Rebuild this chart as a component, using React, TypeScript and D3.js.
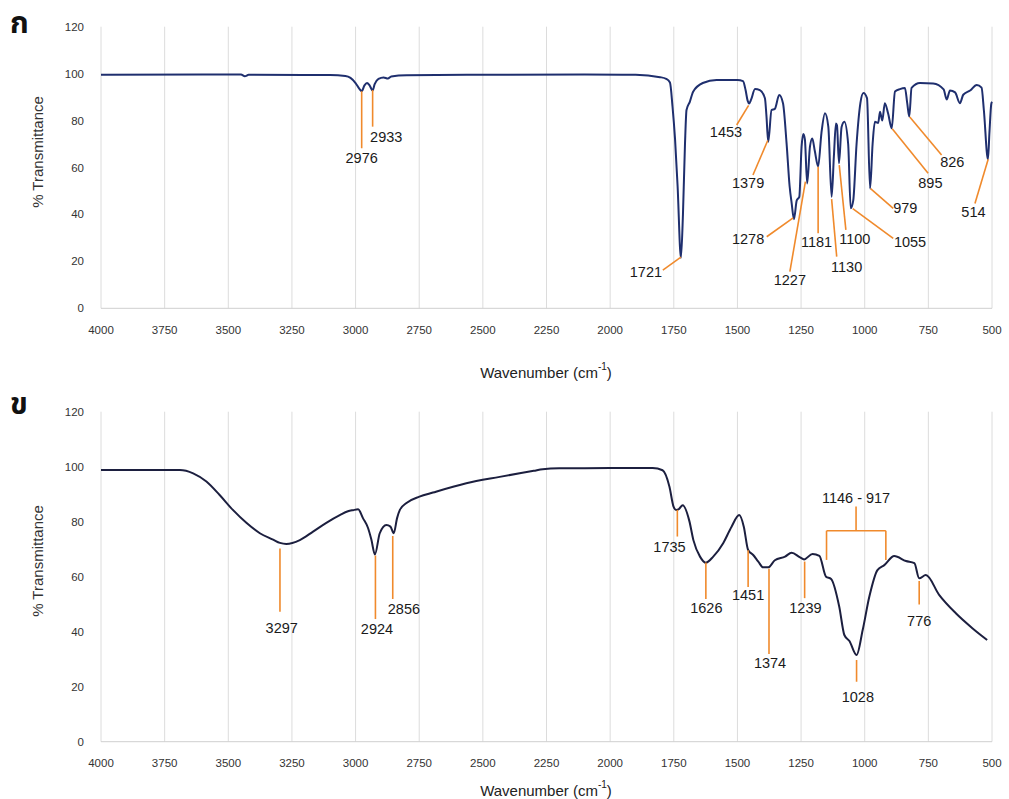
import React, { useEffect } from "react";
import * as d3 from "d3";

const W = 1009;
const H = 799;

const xTicks = [4000, 3750, 3500, 3250, 3000, 2750, 2500, 2250, 2000, 1750, 1500, 1250, 1000, 750, 500];
const yTicks = [0, 20, 40, 60, 80, 100, 120];

// spectrum ก (wavenumber cm-1, %T)
const wavenumberA = [
  4000, 3600, 3450, 3435, 3420, 3100, 3040, 3020, 3000, 2985, 2976, 2965, 2955, 2945, 2933, 2925, 2910, 2890,
  2873, 2860, 2800, 2500, 2100, 1900, 1804, 1780, 1765, 1755, 1745, 1735, 1722, 1714, 1706, 1700, 1687,
  1674, 1636, 1582, 1500, 1478, 1468, 1460, 1454, 1446, 1431, 1412, 1392, 1386, 1379, 1366, 1353, 1336,
  1321, 1307, 1295, 1287, 1278, 1267, 1257, 1248, 1241, 1235, 1226, 1215, 1206, 1196, 1183, 1170, 1156, 1143,
  1130, 1121, 1113, 1109, 1101, 1091, 1080, 1065, 1055, 1045, 1032, 1017, 1005, 991, 979, 969, 960, 947, 940,
  931, 921, 908, 894, 881, 862, 842, 833, 825, 816, 783, 731, 690, 678, 665, 645, 626, 613, 586, 560, 541, 532,
  516, 510, 503, 500,
];
const transmittanceA = [
  99.5, 99.6, 99.6, 98.9, 99.5, 99.4, 99.0, 98.2, 96, 93.5, 92.5, 95, 96, 95, 92.8, 95.5, 97.8, 98.4,
  97.9, 98.8, 99.3, 99.5, 99.6, 99.5, 98.5, 97.8, 96.2, 86, 72, 52, 21.5, 40, 70, 84.5, 88,
  92.3, 96, 97.3, 97.3, 96.8, 93, 88.5, 87.3, 89, 93.5, 93, 89.5, 82, 71, 84.5, 85, 90.9,
  87.4, 70.4, 52, 44.8, 38, 46, 47.5, 68.9, 74.3, 72, 53.2, 69, 72.4, 67, 60.4, 74.7, 83.1, 77.4,
  47.5, 65, 78.8, 78, 61.8, 77.2, 79.5, 70, 42.6, 46, 70, 87.4, 91.7, 89.6, 51, 70, 79.5, 79, 83.8,
  80, 87.4, 83, 76.7, 92.4, 93.4, 93.9, 87.4, 81.7, 93.9, 96, 95.8, 93.3, 89, 92.8, 92, 87.4, 91, 92.8, 95.2, 94, 84.5,
  63.5, 75, 87, 88,
];

// spectrum ข
const wavenumberB = [
  4000, 3750, 3690, 3638, 3586, 3534, 3481, 3429, 3376, 3324, 3297, 3272, 3219, 3167, 3115, 3062, 3030, 3010,
  2990, 2971, 2951, 2938, 2924, 2905, 2879, 2863, 2850, 2837, 2826, 2800, 2749, 2696, 2565, 2434, 2350, 2300, 2265,
  2200, 2000, 1833, 1794, 1767, 1751, 1741, 1730, 1715, 1689, 1673, 1647, 1624, 1595, 1556, 1523, 1493, 1475, 1458,
  1438, 1418, 1399, 1379, 1353, 1313, 1287, 1254, 1238, 1205, 1178, 1152, 1132, 1100, 1080, 1060, 1032,
  1008, 982, 950, 923, 884, 838, 805, 786, 760, 707, 642, 576, 519,
];
const transmittanceB = [
  98.8, 98.8, 98.8, 97.6, 94.6, 89.7, 84.2, 79.6, 75.8, 73.5, 72.3, 71.9, 73.3, 76.4, 79.6, 82.4, 83.8, 84.2,
  84.5, 81.3, 77.7, 73.5, 68.1, 75.8, 78.8, 78.2, 75.8, 81.3, 84.3, 86.8, 89.1, 90.6, 94, 96.3, 97.7, 98.5, 99.1,
  99.4, 99.5, 99.5, 98.7, 92.7, 85.5, 84.3, 84.6, 86, 80.3, 73.3, 67.3, 65.1, 67.3, 72.2, 78.2, 82.4, 78.2, 69.7,
  67.9, 65.5, 63.4, 63.4, 66, 67.3, 68.7, 67, 66.3, 68.3, 67.6, 60, 59.2, 49.1, 38.8, 36.6, 31.5,
  40.6, 52.7, 62.4, 64.2, 67.5, 65.7, 64.9, 59.4, 60.6, 53.3, 46.7, 41.2, 37,
];

// peak labels: leader from peak to end, text centred at label
const peaksA = [
  { text: "2976", peak: [2976, 92.5], end: [2976, 68.2], label: [2976, 64], anchor: "middle" },
  { text: "2933", peak: [2933, 93], end: [2933, 77.4], label: [2943, 73.1], anchor: "start" },
  { text: "1453", peak: [1456, 86.5], end: [1503, 78.1], label: [1545, 75.2], anchor: "middle" },
  { text: "1379", peak: [1381, 71.5], end: [1439, 56.8], label: [1458, 53.3], anchor: "middle" },
  { text: "1721", peak: [1722, 21.8], end: [1793, 16.3], label: [1796, 15.6], anchor: "end" },
  { text: "1278", peak: [1281, 38.5], end: [1385, 30.5], label: [1458, 29.4], anchor: "middle" },
  { text: "1227", peak: [1233, 54], end: [1294, 15.6], label: [1294, 12.1], anchor: "middle" },
  { text: "1181", peak: [1183, 60.3], end: [1183, 32], label: [1189, 28.4], anchor: "middle" },
  { text: "1130", peak: [1130, 46.5], end: [1110, 22], label: [1071, 17.7], anchor: "middle" },
  { text: "1100", peak: [1100, 61], end: [1074, 33.4], label: [1039, 29.4], anchor: "middle" },
  { text: "1055", peak: [1047, 42.5], end: [888, 29.8], label: [822, 28.4], anchor: "middle" },
  { text: "979", peak: [977, 51], end: [888, 42.6], label: [888, 42.6], anchor: "start" },
  { text: "895", peak: [892, 76.5], end: [751, 57.5], label: [742, 53.3], anchor: "middle" },
  { text: "826", peak: [823, 81.5], end: [698, 65.3], label: [656, 62.5], anchor: "middle" },
  { text: "514", peak: [515, 63.5], end: [567, 44.7], label: [573, 41.2], anchor: "middle" },
];

const peaksB = [
  { text: "3297", peak: [3297, 70.3], end: [3297, 47.3], label: [3290, 41.3], anchor: "middle" },
  { text: "2924", peak: [2922, 67.7], end: [2922, 44.6], label: [2916, 41], anchor: "middle" },
  { text: "2856", peak: [2854, 74.8], end: [2854, 51.9], label: [2810, 48.3], anchor: "middle" },
  { text: "1735", peak: [1736, 84.3], end: [1736, 74.6], label: [1767, 70.9], anchor: "middle" },
  { text: "1626", peak: [1624, 65.2], end: [1624, 51.9], label: [1622, 48.5], anchor: "middle" },
  { text: "1451", peak: [1458, 69.6], end: [1458, 56.3], label: [1458, 53.3], anchor: "middle" },
  { text: "1374", peak: [1376, 62.9], end: [1376, 31.9], label: [1372, 28.7], anchor: "middle" },
  { text: "1239", peak: [1236, 65.5], end: [1236, 52.2], label: [1233, 48.8], anchor: "middle" },
  { text: "1028", peak: [1032, 29.7], end: [1032, 21.8], label: [1027, 16.2], anchor: "middle" },
  { text: "776", peak: [786, 58.4], end: [786, 49.9], label: [786, 44], anchor: "middle" },
];

const bracketB = { text: "1146 - 917", left: 1150, right: 917, mid: 1034, bar: 76.7, legs: 66.1, stem: 85.5, label: 88.5 };

const ORANGE = "#f08a2c";
const FONT = "'Liberation Sans', Arial, sans-serif";

type Peak = { text: string; peak: number[]; end: number[]; label: number[]; anchor: string };

function Panel({ top, bottom, tickY, titleY, yTitleY, letter, letterY, wn, tr, peaks, color, bracket }: any) {
  const x = d3.scaleLinear().domain([4000, 500]).range([101, 992]);
  const y = d3.scaleLinear().domain([0, 120]).range([bottom, top]);
  const pts: [number, number][] = wn.map((w: number, i: number) => [w, tr[i]]);
  const line = d3
    .line<[number, number]>()
    .x((d) => x(d[0]))
    .y((d) => y(d[1]))
    .curve(d3.curveMonotoneX);

  return (
    <g>
      <text x={10} y={letterY} fontSize={30} fontWeight="bold" fill="#111" fontFamily="'Noto Sans Thai', 'Noto Sans', 'DejaVu Sans', sans-serif">
        {letter}
      </text>
      {xTicks.map((t) => (
        <line key={t} x1={x(t)} x2={x(t)} y1={y(120)} y2={y(0)} stroke="#dcdcdc" strokeWidth={1} />
      ))}
      <line x1={x(4000)} x2={x(500)} y1={y(0)} y2={y(0)} stroke="#cfcfcf" strokeWidth={1} />
      {yTicks.map((t) => (
        <text key={t} x={84} y={y(t)} textAnchor="end" dominantBaseline="central" fontSize={11.5} fill="#333" fontFamily={FONT}>
          {t}
        </text>
      ))}
      {xTicks.map((t) => (
        <text key={t} x={x(t)} y={tickY} textAnchor="middle" dominantBaseline="central" fontSize={11.5} fill="#333" fontFamily={FONT}>
          {t}
        </text>
      ))}
      <text
        transform={`translate(37,${yTitleY}) rotate(-90)`}
        textAnchor="middle"
        dominantBaseline="central"
        fontSize={15}
        fill="#333"
        fontFamily={FONT}
      >
        % Transmittance
      </text>
      <text x={546} y={titleY} textAnchor="middle" dominantBaseline="central" fontSize={15} fill="#222" fontFamily={FONT}>
        Wavenumber (cm
        <tspan fontSize={10} dy={-6}>-1</tspan>
        <tspan dy={6}>)</tspan>
      </text>
      <path d={line(pts) || ""} fill="none" stroke={color} strokeWidth={2} />
      {peaks.map((p: Peak) => (
        <g key={p.text}>
          <line x1={x(p.peak[0])} y1={y(p.peak[1])} x2={x(p.end[0])} y2={y(p.end[1])} stroke={ORANGE} strokeWidth={1.6} />
          <text
            x={x(p.label[0])}
            y={y(p.label[1])}
            textAnchor={p.anchor}
            dominantBaseline="central"
            fontSize={14.5}
            fill="#1a1a1a"
            fontFamily={FONT}
          >
            {p.text}
          </text>
        </g>
      ))}
      {bracket && (
        <g stroke={ORANGE} strokeWidth={1.6} fill="none">
          <line x1={x(bracket.left)} x2={x(bracket.right)} y1={y(bracket.bar)} y2={y(bracket.bar)} />
          <line x1={x(bracket.left)} x2={x(bracket.left)} y1={y(bracket.bar)} y2={y(bracket.legs)} />
          <line x1={x(bracket.right)} x2={x(bracket.right)} y1={y(bracket.bar)} y2={y(bracket.legs)} />
          <line x1={x(bracket.mid)} x2={x(bracket.mid)} y1={y(bracket.bar)} y2={y(bracket.stem)} />
          <text
            x={x(bracket.mid)}
            y={y(bracket.label)}
            textAnchor="middle"
            dominantBaseline="central"
            fontSize={14.5}
            fill="#1a1a1a"
            stroke="none"
            fontFamily={FONT}
          >
            {bracket.text}
          </text>
        </g>
      )}
    </g>
  );
}

export default function App() {
  useEffect(() => {
    document.body.style.margin = "0";
    document.body.style.background = "#fff";
  }, []);

  return (
    <svg width={W} height={H} viewBox={`0 0 ${W} ${H}`} style={{ display: "block", background: "#fff" }}>
      <Panel
        top={26.7}
        bottom={308.3}
        tickY={330}
        titleY={372}
        yTitleY={152}
        letter="ก"
        letterY={33}
        wn={wavenumberA}
        tr={transmittanceA}
        peaks={peaksA}
        color="#1f2f6e"
      />
      <Panel
        top={411.7}
        bottom={741.7}
        tickY={763}
        titleY={790}
        yTitleY={561}
        letter="ข"
        letterY={414}
        wn={wavenumberB}
        tr={transmittanceB}
        peaks={peaksB}
        color="#1c1f3f"
        bracket={bracketB}
      />
    </svg>
  );
}
